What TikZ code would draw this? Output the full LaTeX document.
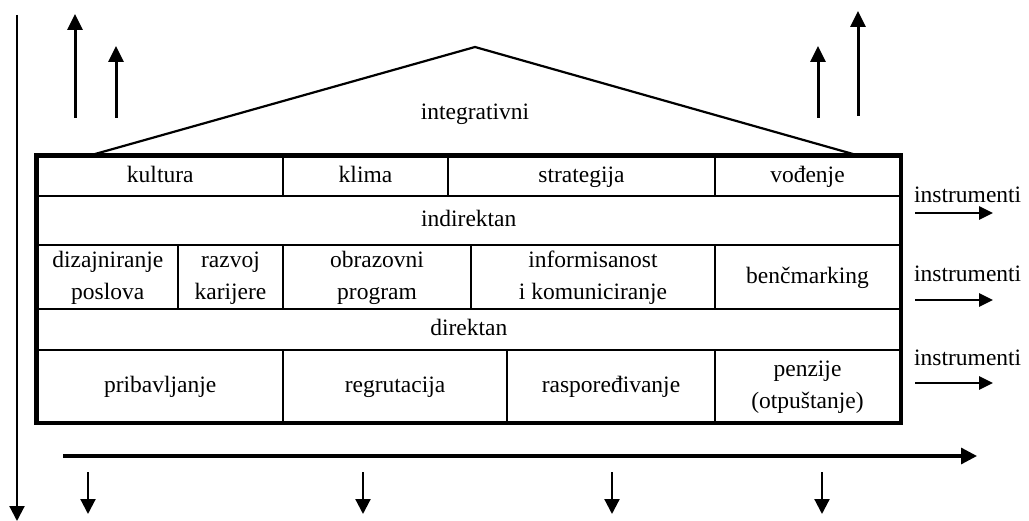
\documentclass[tikz,border=0pt]{standalone}
\usepackage{fontspec}
\setmainfont{Liberation Serif}
\usetikzlibrary{arrows.meta}
% centred cell text; each row carries the tabular strut, so baselines line up
\newcommand\celltxt[1]{\begin{tabular}{@{}c@{}}#1\end{tabular}}
\begin{document}
\begin{tikzpicture}[x=1pt,y=-1pt,
  every node/.style={font=\fontsize{23.5}{32}\selectfont},
  cell/.style={draw, line width=2.2pt, inner sep=0pt},
  frame/.style={line width=4pt},
  roof/.style={line width=2.2pt},
  uparrow/.style={line width=3pt, -{Triangle[length=16pt,width=15pt]}},
  rarrow/.style={line width=2.8pt, -{Triangle[length=14pt,width=13pt]}},
  downarrow/.style={line width=2.2pt, -{Triangle[length=15pt,width=15pt]}},
  axisarrow/.style={line width=3.2pt, -{Triangle[length=16pt,width=16pt]}},
  label/.style={anchor=base west, inner sep=0pt}]
\useasboundingbox (0,0) rectangle (1029,521);

% row 1
\node[cell, minimum width=245.5pt, minimum height=39.5pt] (kultura) at (160.25,176.25) {\celltxt{kultura}};
\node[cell, minimum width=165pt, minimum height=39.5pt] (klima) at (365.5,176.25) {\celltxt{klima}};
\node[cell, minimum width=267pt, minimum height=39.5pt] (strategija) at (581.5,176.25) {\celltxt{strategija}};
\node[cell, minimum width=185pt, minimum height=39.5pt] (vodjenje) at (807.5,176.25) {\celltxt{vođenje}};
% row 2
\node[cell, minimum width=862.5pt, minimum height=49pt] (indirektan) at (468.75,220.5) {\celltxt{indirektan}};
% row 3
\node[cell, minimum width=140.5pt, minimum height=64pt] (dizajn) at (107.75,277) {\celltxt{dizajniranje\\poslova}};
\node[cell, minimum width=105pt, minimum height=64pt] (razvoj) at (230.5,277) {\celltxt{razvoj\\karijere}};
\node[cell, minimum width=188pt, minimum height=64pt] (obraz) at (377,277) {\celltxt{obrazovni\\program}};
\node[cell, minimum width=244pt, minimum height=64pt] (inform) at (593,277) {\celltxt{informisanost\\i komuniciranje}};
\node[cell, minimum width=185pt, minimum height=64pt] (bench) at (807.5,277) {\celltxt{benčmarking}};
% row 4
\node[cell, minimum width=862.5pt, minimum height=41pt] (direktan) at (468.75,329.5) {\celltxt{direktan}};
% row 5
\node[cell, minimum width=245.5pt, minimum height=72pt] (pribav) at (160.25,386) {\celltxt{pribavljanje}};
\node[cell, minimum width=224pt, minimum height=72pt] (regrut) at (395,386) {\celltxt{regrutacija}};
\node[cell, minimum width=208pt, minimum height=72pt] (raspor) at (611,386) {\celltxt{raspoređivanje}};
\node[cell, minimum width=185pt, minimum height=72pt] (penzije) at (807.5,386) {\celltxt{penzije\\(otpuštanje)}};

% outer frame
\draw[frame] (kultura.north west) rectangle (penzije.south east);

% roof
\coordinate (roofL) at (88,156);
\coordinate (apex) at (475,47);
\coordinate (roofR) at (860,156);
\draw[roof] (roofL) -- (apex) -- (roofR);
\node (integ) at (475,114) {integrativni};

% vertical arrows above the roof
\coordinate (u1a) at (75,118);  \coordinate (u1b) at (75,14);
\coordinate (u2a) at (116,118); \coordinate (u2b) at (116,46);
\coordinate (u3a) at (818,118); \coordinate (u3b) at (818,46);
\coordinate (u4a) at (858,116); \coordinate (u4b) at (858,11);
\draw[uparrow] (u1a) -- (u1b);
\draw[uparrow] (u2a) -- (u2b);
\draw[uparrow] (u3a) -- (u3b);
\draw[uparrow] (u4a) -- (u4b);

% instruments on the right
\node[label] (ins1) at (914,203) {instrumenti};
\node[label] (ins2) at (914,282) {instrumenti};
\node[label] (ins3) at (914,366) {instrumenti};
\coordinate (r1a) at (915,213); \coordinate (r1b) at (993,213);
\coordinate (r2a) at (915,300); \coordinate (r2b) at (993,300);
\coordinate (r3a) at (915,383); \coordinate (r3b) at (993,383);
\draw[rarrow] (r1a) -- (r1b);
\draw[rarrow] (r2a) -- (r2b);
\draw[rarrow] (r3a) -- (r3b);

% left vertical axis
\coordinate (vtop) at (17,15);
\coordinate (vbot) at (17,521);
\draw[downarrow] (vtop) -- (vbot);

% bottom horizontal axis
\coordinate (hl) at (63,456);
\coordinate (hr) at (977,456);
\draw[axisarrow] (hl) -- (hr);

% down arrows below the axis
\coordinate (d1a) at (88,472);  \coordinate (d1b) at (88,514);
\coordinate (d2a) at (363,472); \coordinate (d2b) at (363,514);
\coordinate (d3a) at (612,472); \coordinate (d3b) at (612,514);
\coordinate (d4a) at (822,472); \coordinate (d4b) at (822,514);
\draw[downarrow] (d1a) -- (d1b);
\draw[downarrow] (d2a) -- (d2b);
\draw[downarrow] (d3a) -- (d3b);
\draw[downarrow] (d4a) -- (d4b);
\end{tikzpicture}
\end{document}
